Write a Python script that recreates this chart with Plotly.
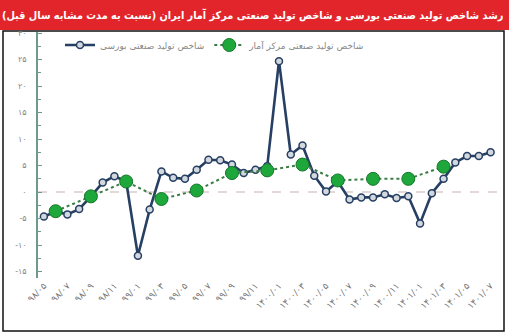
import plotly.graph_objects as go

months = [
    "۹۸/۰۵", "۹۸/۰۶", "۹۸/۰۷", "۹۸/۰۸", "۹۸/۰۹", "۹۸/۱۰", "۹۸/۱۱", "۹۸/۱۲",
    "۹۹/۰۱", "۹۹/۰۲", "۹۹/۰۳", "۹۹/۰۴", "۹۹/۰۵", "۹۹/۰۶", "۹۹/۰۷", "۹۹/۰۸",
    "۹۹/۰۹", "۹۹/۱۰", "۹۹/۱۱", "۹۹/۱۲",
    "۱۴۰۰/۰۱", "۱۴۰۰/۰۲", "۱۴۰۰/۰۳", "۱۴۰۰/۰۴", "۱۴۰۰/۰۵", "۱۴۰۰/۰۶",
    "۱۴۰۰/۰۷", "۱۴۰۰/۰۸", "۱۴۰۰/۰۹", "۱۴۰۰/۱۰", "۱۴۰۰/۱۱", "۱۴۰۰/۱۲",
    "۱۴۰۱/۰۱", "۱۴۰۱/۰۲", "۱۴۰۱/۰۳", "۱۴۰۱/۰۴", "۱۴۰۱/۰۵", "۱۴۰۱/۰۶", "۱۴۰۱/۰۷",
]

bourse_index = [
    -4.6, -3.7, -4.2, -3.2, -0.8, 1.8, 3.0, 2.0,
    -12.0, -3.3, 3.9, 2.7, 2.5, 4.2, 6.1, 6.0,
    5.2, 3.6, 4.2, 4.9,
    24.7, 7.1, 8.8, 3.1, 0.1, 2.0,
    -1.4, -1.0, -1.0, -0.4, -1.1, -0.8,
    -5.9, -0.2, 2.5, 5.6, 6.8, 6.8, 7.5,
]

sci_index = [
    None, -3.6, None, None, -0.8, None, None, 2.0,
    None, None, -1.3, None, None, 0.3, None, None,
    3.6, None, None, 4.1,
    None, None, 5.2, None, None, 2.2,
    None, None, 2.5, None, None, 2.5,
    None, None, 4.8, None, None, None, None,
]

x_tick_labels = months[::2]
y_tick_vals = [-15, -10, -5, 0, 5, 10, 15, 20, 25, 30]
y_tick_text = ["-۱۵", "-۱۰", "-۵", "۰", "۵", "۱۰", "۱۵", "۲۰", "۲۵", "۳۰"]

name_bourse = "شاخص تولید صنعتی بورسی"
name_sci = "شاخص تولید صنعتی مرکز آمار"
title_text = "رشد شاخص تولید صنعتی بورسی و شاخص تولید صنعتی مرکز آمار ایران (نسبت به مدت مشابه سال قبل)"

W, H = 509, 336
L, R, T, B = 38, 500, 32, 278


def px_x(x):
    return (x - L) / (R - L)


def px_y(y):
    return (B - y) / (B - T)


fig = go.Figure()
fig.add_trace(go.Scatter(
    x=months, y=bourse_index, name=name_bourse, mode="lines+markers",
    line=dict(color="#263f63", width=2.6),
    marker=dict(size=7, color="#d3d7de", line=dict(color="#263f63", width=1.5)),
))
fig.add_trace(go.Scatter(
    x=months, y=sci_index, name=name_sci, mode="lines+markers", connectgaps=True,
    line=dict(color="#3b7d45", width=2, dash="dot"),
    marker=dict(size=13, color="#1ea83c", line=dict(color="#15772a", width=1)),
))

shapes = [
    dict(type="rect", xref="paper", yref="paper", x0=px_x(0), x1=px_x(W),
         y0=px_y(30), y1=px_y(0), fillcolor="#e2252b", line=dict(width=0), layer="below"),
    dict(type="rect", xref="paper", yref="paper", x0=px_x(3), x1=px_x(504),
         y0=px_y(331), y1=px_y(31), line=dict(color="#111111", width=1.5), layer="below"),
    dict(type="line", xref="x", yref="y", x0=-0.5, x1=38.8, y0=0, y1=0,
         line=dict(color="#dccaca", width=1.5, dash="dash"), layer="below"),
]

fig.update_layout(
    width=W, height=H,
    margin=dict(l=L, r=W - R, t=T, b=H - B, pad=0),
    paper_bgcolor="white", plot_bgcolor="white",
    font=dict(family="DejaVu Sans", color="#777777", size=9),
    showlegend=True,
    legend=dict(orientation="h", x=px_x(60), y=px_y(45), xanchor="left", yanchor="middle",
                font=dict(size=9, color="#888888"), bgcolor="rgba(0,0,0,0)",
                itemwidth=30),
    shapes=shapes,
    annotations=[dict(text="<b>" + title_text + "</b>", xref="paper", yref="paper",
                      x=px_x(505), y=px_y(15), xanchor="right", yanchor="middle",
                      showarrow=False,
                      font=dict(color="white", size=10.8, family="DejaVu Sans Condensed"))],
)

fig.update_xaxes(
    type="category", range=[-0.5, 38.8], tickvals=x_tick_labels, ticktext=x_tick_labels,
    tickangle=-45, showgrid=False, showline=False, ticks="", zeroline=False,
    tickfont=dict(size=9, color="#777777"),
)
fig.update_yaxes(
    range=[-16.2, 30.2], tickvals=y_tick_vals, ticktext=y_tick_text,
    showgrid=False, zeroline=False, showline=True, linecolor="#6e9a8a", linewidth=1.5,
    ticks="inside", ticklen=4, tickcolor="#6e9a8a",
    minor=dict(ticks="inside", ticklen=3, dtick=2.5, tick0=0, tickcolor="#6e9a8a"),
    tickfont=dict(size=8, color="#888888"), ticklabelstandoff=8,
)

fig.write_html("out.html")
